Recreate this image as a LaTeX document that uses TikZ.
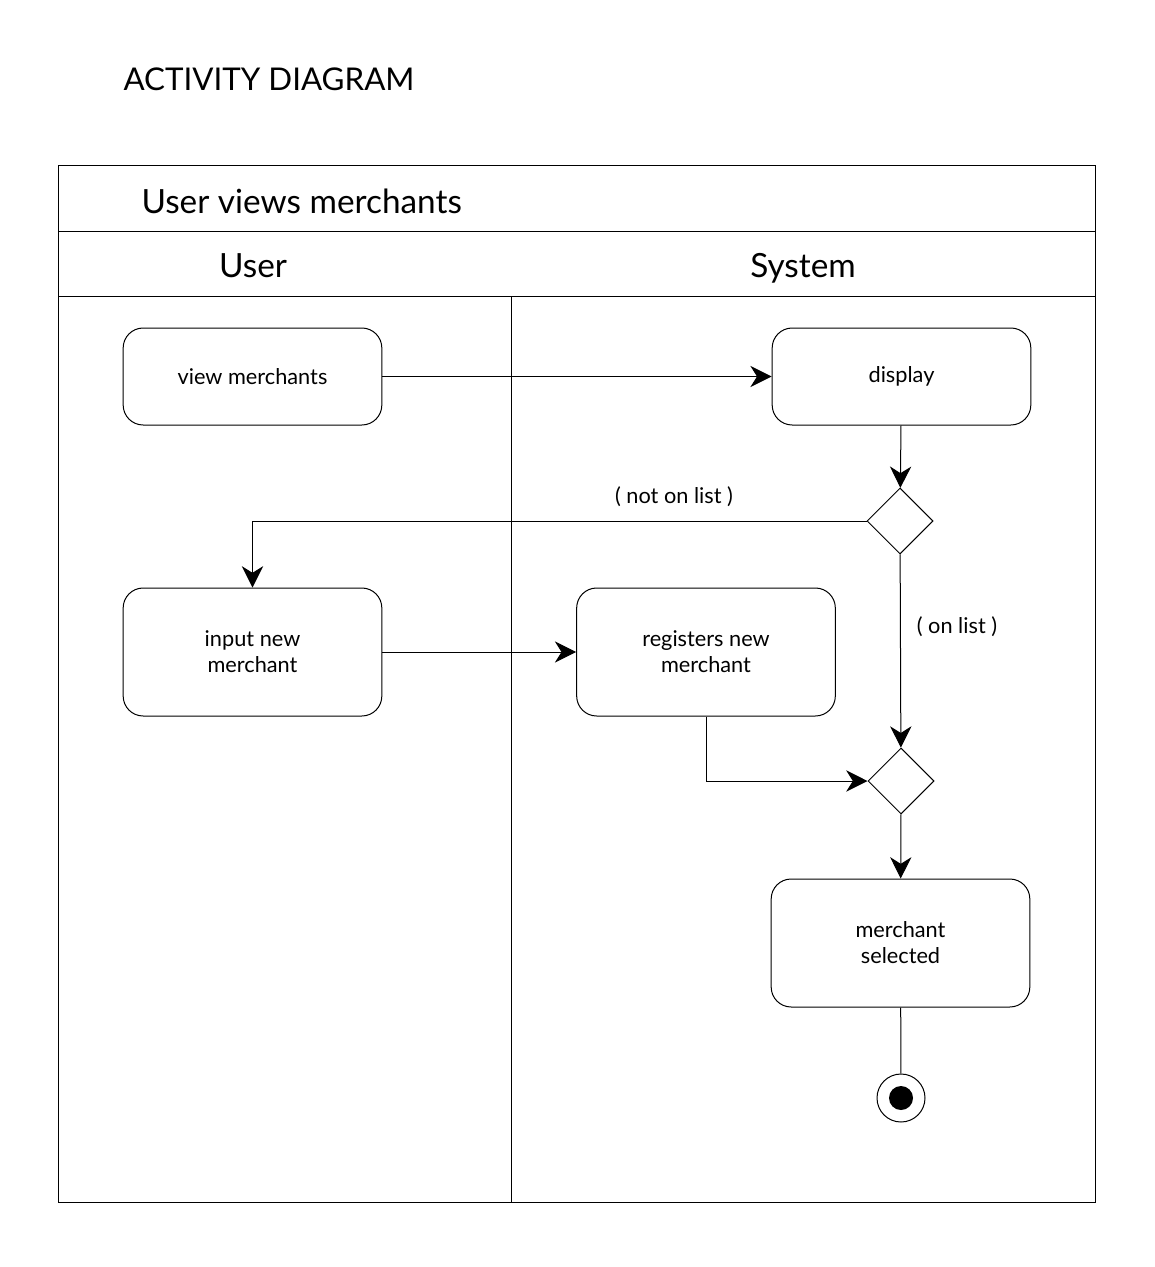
\documentclass[tikz,border=0pt]{standalone}
\usepackage{fontspec}
\setmainfont{Lato}
\usetikzlibrary{shapes.geometric,arrows.meta}

\begin{document}
\begin{tikzpicture}[x=0.75pt, y=-0.75pt, line width=0.75pt,
		act/.style={draw, rounded corners=15pt, minimum width=194pt, minimum height=72.75pt, align=center, font=\fontsize{16.3}{19.5}\selectfont},
		tall/.style={act, minimum height=96pt},
		choice/.style={draw, diamond, aspect=1, minimum width=49.5pt, minimum height=49.5pt, inner sep=0pt},
		flow/.style={-{Stealth[length=16pt, width=16pt, inset=5pt]}},
		guard/.style={font=\fontsize{16.3}{19}\selectfont},
		lane/.style={anchor=base, inner sep=0pt, font=\fontsize{25}{30}\selectfont}]
		\useasboundingbox (0,0) rectangle (1154,1267);
		
		\node[anchor=base west, inner sep=0pt, font=\fontsize{23.5}{28}\selectfont] (title) at (123,90) {ACTIVITY DIAGRAM};
		
		\draw (58,165) rectangle (1095,1202);
		\foreach \y in {231, 296} {
			\draw (58,\y) -- (1095,\y);
		}
		\draw (511,296) -- (511,1202);
		\node[lane, anchor=base west] (usecase) at (141,213) {User views merchants};
		\node[lane] (laneuser) at (253,277) {User};
		\node[lane] (lanesystem) at (803,277) {System};
		
		\node[act] (view) at (252.5,376.5) {view merchants};
		\node[act] (display) at (901.5,376.5) {display};
		\node[tall] (input) at (252.5,652) {input new\\merchant};
		\node[tall] (register) at (706,652) {registers new\\merchant};
		\node[tall] (selected) at (900.5,943) {merchant\\selected};
		\node[choice] (dec1) at (900,521) {};
		\node[choice] (dec2) at (901,781) {};
		\node[draw, circle, minimum size=36pt, inner sep=0pt] (end) at (901,1098) {};
		\node[fill=black, circle, minimum size=18pt, inner sep=0pt] (enddot) at (end) {};
		
		\node[guard] (notlist) at (674,497) {( not on list )};
		\node[guard] (onlist) at (957,627) {( on list )};
		
		\draw[flow] (view) -- (display);
		\draw[flow] (display) -- (dec1);
		\draw[flow] (dec1.west) -| (input.north);
		\draw[flow] (dec1) -- (dec2);
		\draw[flow] (input) -- (register);
		\draw[flow] (register.south) |- (dec2.west);
		\draw[flow] (dec2) -- (selected);
		\draw (selected) -- (end);
	\end{tikzpicture}
\end{document}
